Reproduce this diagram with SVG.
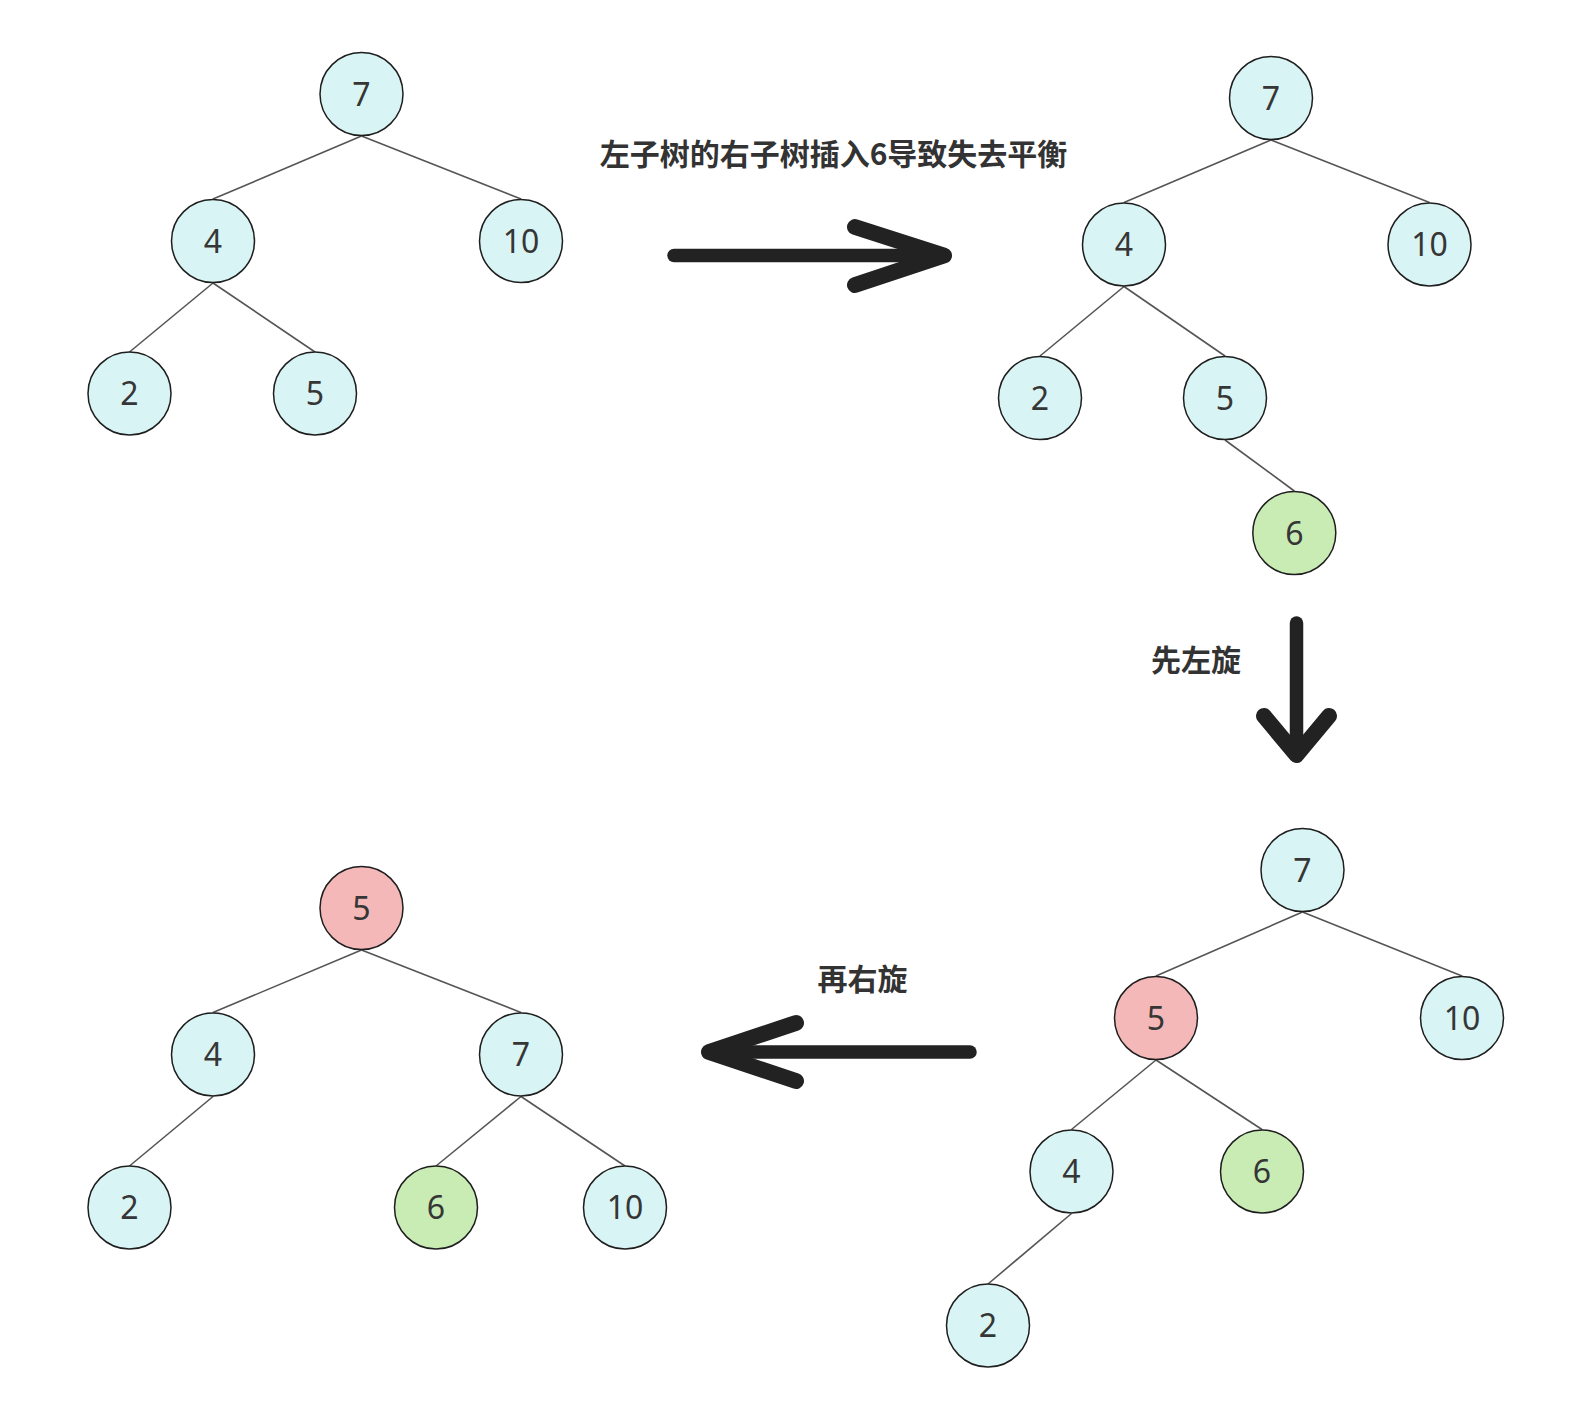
<svg xmlns="http://www.w3.org/2000/svg" width="1583" height="1413" viewBox="0 0 1583 1413">
<style>
.n circle{stroke:#1e1e1e;stroke-width:1.5}
.b circle{fill:#d9f4f4}
.r circle{fill:#f5b8b8}
.g circle{fill:#c9ecb4}
.n text{font-family:"Noto Sans","Open Sans","Liberation Sans",sans-serif;font-size:32px;fill:#363636;text-anchor:middle}
.e line{stroke:#555;stroke-width:1.6}
.arr path{fill:none;stroke:#222;stroke-linecap:round;stroke-linejoin:round}
.lbl{font-family:"Noto Sans CJK SC","Noto Sans",sans-serif;font-weight:bold;font-size:30px;fill:#333;text-anchor:middle}
</style>
<rect width="1583" height="1413" fill="#fff"/>
<g id="connectors" class="e">
<line x1="361.5" y1="136" x2="213" y2="199"/>
<line x1="361.5" y1="136" x2="521" y2="199"/>
<line x1="213" y1="283" x2="129.5" y2="352"/>
<line x1="213" y1="283" x2="315" y2="352"/>
<line x1="1271" y1="140" x2="1124" y2="202.5"/>
<line x1="1271" y1="140" x2="1429.5" y2="202.5"/>
<line x1="1124" y1="286.5" x2="1040" y2="356"/>
<line x1="1124" y1="286.5" x2="1225" y2="356"/>
<line x1="1225" y1="440" x2="1294.3" y2="491"/>
<line x1="1302.5" y1="912" x2="1156" y2="976"/>
<line x1="1302.5" y1="912" x2="1462" y2="976"/>
<line x1="1156" y1="1060" x2="1071.5" y2="1129.5"/>
<line x1="1156" y1="1060" x2="1262" y2="1129.5"/>
<line x1="1071.5" y1="1213.5" x2="988" y2="1284"/>
<line x1="361.5" y1="950" x2="213" y2="1012.5"/>
<line x1="361.5" y1="950" x2="521" y2="1012.5"/>
<line x1="213" y1="1096.5" x2="129.5" y2="1166"/>
<line x1="521" y1="1096.5" x2="436" y2="1166"/>
<line x1="521" y1="1096.5" x2="625" y2="1166"/>
</g>
<g id="arrows" class="arr">
<path id="arrow-right" d="M674 255.5 L944 255.5" stroke-width="13.5"/>
<path d="M855 227 L944 255.5 L855 285" stroke-width="16"/>
<path id="arrow-down" d="M1296.5 623 L1296.5 755" stroke-width="13.5"/>
<path d="M1264 716 L1296.5 755 L1329 716" stroke-width="16"/>
<path id="arrow-left" d="M970 1052 L709 1052" stroke-width="13.5"/>
<path d="M796 1023 L709 1052 L796 1081" stroke-width="16"/>
</g>
<g id="labels">
<text class="lbl" x="833.5" y="164.5">左子树的右子树插入6导致失去平衡</text>
<text class="lbl" x="1196" y="671">先左旋</text>
<text class="lbl" x="862.5" y="989.5">再右旋</text>
</g>
<g id="t1-7" class="n b"><circle cx="361.5" cy="94" r="41.5"/><text x="361.5" y="105.5">7</text></g>
<g id="t1-4" class="n b"><circle cx="213" cy="241" r="41.5"/><text x="213" y="252.5">4</text></g>
<g id="t1-10" class="n b"><circle cx="521" cy="241" r="41.5"/><text x="521" y="252.5">10</text></g>
<g id="t1-2" class="n b"><circle cx="129.5" cy="393.5" r="41.5"/><text x="129.5" y="405">2</text></g>
<g id="t1-5" class="n b"><circle cx="315" cy="393.5" r="41.5"/><text x="315" y="405">5</text></g>
<g id="t2-7" class="n b"><circle cx="1271" cy="98" r="41.5"/><text x="1271" y="109.5">7</text></g>
<g id="t2-4" class="n b"><circle cx="1124" cy="244.5" r="41.5"/><text x="1124" y="256">4</text></g>
<g id="t2-10" class="n b"><circle cx="1429.5" cy="244.5" r="41.5"/><text x="1429.5" y="256">10</text></g>
<g id="t2-2" class="n b"><circle cx="1040" cy="398" r="41.5"/><text x="1040" y="409.5">2</text></g>
<g id="t2-5" class="n b"><circle cx="1225" cy="398" r="41.5"/><text x="1225" y="409.5">5</text></g>
<g id="t2-6" class="n g"><circle cx="1294.3" cy="533" r="41.5"/><text x="1294.3" y="544.5">6</text></g>
<g id="t3-7" class="n b"><circle cx="1302.5" cy="870" r="41.5"/><text x="1302.5" y="881.5">7</text></g>
<g id="t3-5" class="n r"><circle cx="1156" cy="1018" r="41.5"/><text x="1156" y="1029.5">5</text></g>
<g id="t3-10" class="n b"><circle cx="1462" cy="1018" r="41.5"/><text x="1462" y="1029.5">10</text></g>
<g id="t3-4" class="n b"><circle cx="1071.5" cy="1171.5" r="41.5"/><text x="1071.5" y="1183">4</text></g>
<g id="t3-6" class="n g"><circle cx="1262" cy="1171.5" r="41.5"/><text x="1262" y="1183">6</text></g>
<g id="t3-2" class="n b"><circle cx="988" cy="1325.5" r="41.5"/><text x="988" y="1337">2</text></g>
<g id="t4-5" class="n r"><circle cx="361.5" cy="908" r="41.5"/><text x="361.5" y="919.5">5</text></g>
<g id="t4-4" class="n b"><circle cx="213" cy="1054.5" r="41.5"/><text x="213" y="1066">4</text></g>
<g id="t4-7" class="n b"><circle cx="521" cy="1054.5" r="41.5"/><text x="521" y="1066">7</text></g>
<g id="t4-2" class="n b"><circle cx="129.5" cy="1207.5" r="41.5"/><text x="129.5" y="1219">2</text></g>
<g id="t4-6" class="n g"><circle cx="436" cy="1207.5" r="41.5"/><text x="436" y="1219">6</text></g>
<g id="t4-10" class="n b"><circle cx="625" cy="1207.5" r="41.5"/><text x="625" y="1219">10</text></g>
</svg>
